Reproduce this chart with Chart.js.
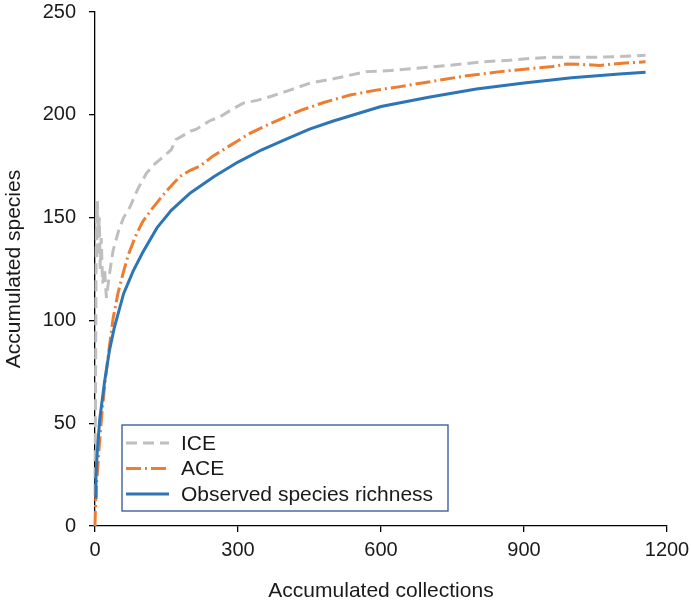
<!DOCTYPE html>
<html>
<head>
<meta charset="utf-8">
<script src="https://cdn.jsdelivr.net/npm/chart.js@4/dist/chart.umd.min.js"></script>
<style>
  html, body { margin: 0; padding: 0; background: #fff; }
  #wrap { width: 691px; height: 607px; position: relative; }
</style>
</head>
<body>
<div id="wrap"><canvas id="chart"></canvas></div>
<script>
// x ticks / y ticks
const xTicks = [0, 300, 600, 900, 1200];
const yTicks = [0, 50, 100, 150, 200, 250];

// ICE estimator
const iceX = [0, 1, 2, 3, 4, 5, 7, 9, 11, 13, 16, 20, 24, 30, 38, 50, 60, 73, 90, 108, 125, 143, 160, 170, 178, 200, 213, 240, 262, 290, 311, 340, 370, 409, 451, 500, 570, 620, 675, 740, 814, 870, 919, 960, 1000, 1050, 1100, 1155];
const iceY = [15, 60, 120, 150, 130, 158, 140, 150, 125, 140, 118, 125, 111, 122, 134, 144, 150, 155, 164, 171.6, 176, 179.6, 183, 188, 189, 192, 193, 197, 199, 203, 205.7, 207, 209, 212, 215.4, 217.5, 221, 221.5, 222.6, 224, 225.8, 226.5, 227.5, 228, 228, 228, 228.3, 229];

// ACE estimator
const aceX = [0, 1, 3, 6, 10, 15, 21, 30, 38, 48, 59, 70, 87, 100, 122, 150, 178, 200, 220, 248, 283, 325, 370, 430, 480, 535, 590, 640, 700, 780, 850, 919, 960, 990, 1020, 1059, 1100, 1155];
const aceY = [0, 10, 20, 29, 42, 56, 70, 87, 101, 113, 123, 132, 142, 148, 155, 163, 170, 173, 175, 180, 185, 191, 196, 202, 206, 209.6, 212, 213.7, 216, 219, 221, 222.6, 223.5, 224.7, 224.5, 224, 225, 225.8];

// observed species richness
const obsX = [0, 2, 5, 10, 20, 30, 40, 60, 80, 100, 130, 160, 200, 250, 300, 350, 400, 450, 500, 600, 700, 800, 900, 1000, 1100, 1155];
const obsY = [14, 24, 37, 52, 70, 85, 96, 113, 124, 133, 145, 153.5, 162, 170, 177, 183, 188, 193, 197, 204, 208.5, 212.5, 215.5, 218, 219.8, 220.7];

const zip = (xs, ys) => xs.map((x, i) => ({ x, y: ys[i] }));

const colors = {
  ice: '#BFBFBF',
  ace: '#ED7D31',
  obs: '#2E75B6',
  frame: '#2F5597',
  text: '#1a1a1a',
};

const series = [
  { label: 'ICE', data: zip(iceX, iceY), color: colors.ice, dash: [11, 6], order: 3 },
  { label: 'ACE', data: zip(aceX, aceY), color: colors.ace, dash: [15, 4, 2, 4], order: 2 },
  { label: 'Observed species richness', data: zip(obsX, obsY), color: colors.obs, dash: [], order: 1 },
];

// legend drawn inside the plot, boxed
const boxLegend = {
  id: 'boxLegend',
  afterDatasetsDraw(chart) {
    const { ctx, chartArea } = chart;
    const left = chartArea.left + 27;
    const top = chartArea.bottom - 101;
    const w = 326, h = 86;
    ctx.save();
    ctx.fillStyle = '#fff';
    ctx.fillRect(left, top, w, h);
    ctx.strokeStyle = colors.frame;
    ctx.lineWidth = 1.3;
    ctx.strokeRect(left, top, w, h);
    ctx.font = '21px "Liberation Sans", Arial, sans-serif';
    ctx.textBaseline = 'middle';
    series.forEach((s, i) => {
      const y = top + 18 + i * 25.5;
      ctx.beginPath();
      ctx.setLineDash(s.dash);
      ctx.strokeStyle = s.color;
      ctx.lineWidth = 3;
      ctx.moveTo(left + 4, y);
      ctx.lineTo(left + 47, y);
      ctx.stroke();
      ctx.setLineDash([]);
      ctx.fillStyle = colors.text;
      ctx.fillText(s.label, left + 59, y + 1);
    });
    ctx.restore();
  }
};

const tickFont = { family: '"Liberation Sans", Arial, sans-serif', size: 20 };
const titleFont = { family: '"Liberation Sans", Arial, sans-serif', size: 21, lineHeight: 1 };

new Chart(document.getElementById('chart'), {
  type: 'line',
  data: {
    datasets: series.map(s => ({
      label: s.label,
      data: s.data,
      borderColor: s.color,
      backgroundColor: s.color,
      borderDash: s.dash,
      borderWidth: 3,
      pointRadius: 0,
      tension: 0,
      fill: false,
      clip: false,
      order: s.order,
    })),
  },
  options: {
    responsive: true,
    maintainAspectRatio: false,
    animation: false,
    layout: { padding: { left: 0, right: 24, top: 12, bottom: 0 } },
    plugins: {
      legend: { display: false },
      tooltip: { enabled: false },
    },
    scales: {
      x: {
        type: 'linear',
        min: 0,
        max: 1200,
        afterBuildTicks: axis => { axis.ticks = xTicks.map(v => ({ value: v })); },
        afterFit: axis => { axis.height = 81; axis.paddingLeft = 0; axis.paddingRight = 0; },
        ticks: { color: colors.text, font: tickFont, padding: 6, maxRotation: 0, callback: v => String(v) },
        grid: { display: true, drawOnChartArea: false, drawTicks: true, tickLength: 6, color: '#000', lineWidth: 1.3 },
        border: { display: true, color: '#000', width: 1.3 },
        title: { display: true, text: 'Accumulated collections', color: colors.text, font: titleFont, padding: { top: 4, bottom: 5 } },
      },
      y: {
        min: 0,
        max: 250,
        afterBuildTicks: axis => { axis.ticks = yTicks.map(v => ({ value: v })); },
        afterFit: axis => { axis.width = 95; axis.paddingTop = 0; axis.paddingBottom = 0; },
        ticks: { color: colors.text, font: tickFont, padding: 13, callback: v => String(v) },
        grid: { display: true, drawOnChartArea: false, drawTicks: true, tickLength: 6, color: '#000', lineWidth: 1.3 },
        border: { display: true, color: '#000', width: 1.3 },
        title: { display: true, text: 'Accumulated species', color: colors.text, font: titleFont, padding: { top: 4, bottom: 4 } },
      },
    },
  },
  plugins: [boxLegend],
});
</script>
</body>
</html>
